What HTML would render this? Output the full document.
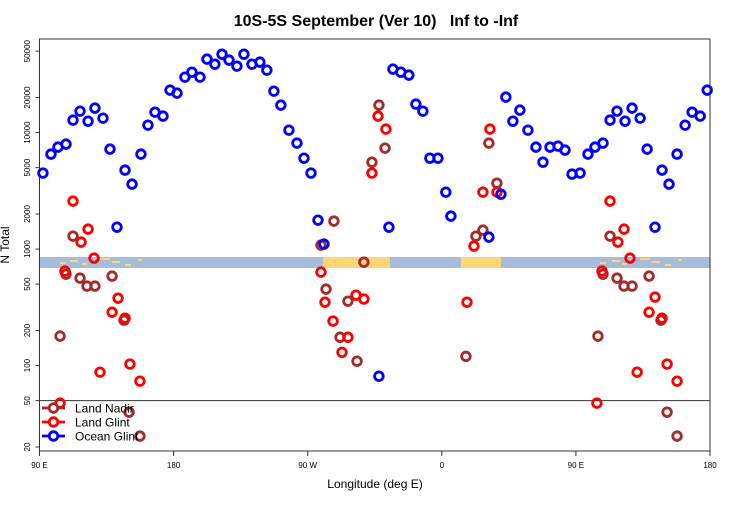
<!DOCTYPE html>
<html><head><meta charset="utf-8"><style>
body{margin:0;background:#fff}
svg text{font-family:"Liberation Sans",Arial,sans-serif}
.pre{white-space:pre}
</style></head><body>
<svg id="chart" width="750" height="500" xmlns="http://www.w3.org/2000/svg">
<text class="pre" xml:space="preserve" x="376" y="26" text-anchor="middle" font-size="16" font-weight="bold">10S-5S September (Ver 10)   Inf to -Inf</text>
<g id="band"></g>
<g id="axes"></g>
<g id="marks"></g>
<g id="legend"></g>
<text x="375" y="488" text-anchor="middle" font-size="12">Longitude (deg E)</text>
<text transform="translate(9,245) rotate(-90)" text-anchor="middle" font-size="12">N Total</text>
</svg>
<script>
const xTicks=[90,180,270,360,450,540];
const xTickLabels=["90 E","180","90 W","0","90 E","180"];
const yTicks=[20,50,100,200,500,1000,2000,5000,10000,20000,50000];
const oceanLon=[92.3,97.7,102.4,107.8,112.5,117.2,122.6,127.2,132.6,137.3,142,147.4,152.1,158.1,162.8,167.5,172.9,177.6,182.3,187.6,192.3,197.7,202.4,207.7,212.5,217.2,222.5,227.2,232.6,237.9,242.6,247.3,252,257.4,262.8,267.5,272.2,276.9,280.9,317.8,324.5,327.2,332.5,337.9,342.6,347.3,352,357.4,362.7,366.1,391.6,399.7,403,407.7,412.4,417.8,423.2,427.9,432.6,438,442.7,447.4,452.8,458.1,462.8,468.2,472.9,477.6,483,487.7,493.1,497.8,503.1,507.8,512.5,517.9,523.3,528,533.4,538.1];
const oceanVal=[4490,6530,7500,7960,12790,15270,12530,16210,13300,7210,1542,4760,3610,6530,11580,14970,13840,23140,21810,29900,33000,29900,42700,38650,47100,41870,37170,47100,38650,40250,34340,22680,17200,10490,8120,6030,4490,1771,1103,81,1542,35050,33000,31120,17550,15270,6030,6030,3080,1918,1266,2960,20150,12530,15580,10490,7500,5570,7500,7650,7070,4400,4490,6530,7500,8120,12790,15270,12530,16210,13300,7210,1542,4760,3610,6530,11580,14970,13840,23140];
const glintLon=[112.5,122.6,117.9,126.6,107.1,138.7,142.7,147.4,150.7,130.6,157.4,103.8,317.2,322.5,313.1,278.9,281.6,287,293,297,302.4,307.7,387.6,381.6,376.9,392.3,397,472.9,482.3,478.2,486.3,467.5,503.1,499.1,507.8,511.2,491.1,517.9,464.1];
const glintVal=[2580,1483,1147,836,647,287,379,255,103,87.8,73.5,47.6,13840,10710,4490,634,350,241,130,175,402,372,3080,1060,350,10710,3080,2580,1483,1147,836,647,387,287,255,103,87.8,73.5,47.6];
const nadirLon=[112.5,107.8,103.8,117.2,121.9,127.2,138.7,146.7,150.1,157.4,317.8,321.9,313.1,287.6,278.9,282.3,297,291.7,303.1,307.7,387.6,382.9,376.2,391.6,397,472.9,468.2,477.6,482.3,487.7,499.1,507.1,464.8,511.2,517.9];
const nadirVal=[1291,609,179,563,481,481,586,245,39.8,24.8,17200,7350,5570,1737,1081,453,357,175,109,772,1454,1291,120,8120,3680,1291,609,563,481,481,586,245,179,39.8,24.8];
const L=39.5,R=710,T=39,B=451;
const X=lon=>L+(lon-90)*(R-L)/450;
const Y=v=>447-(Math.log10(v)-Math.log10(20))*116.5;
const NS="http://www.w3.org/2000/svg";
function mk(tag,attrs,parent){const e=document.createElementNS(NS,tag);for(const k in attrs)e.setAttribute(k,attrs[k]);parent.appendChild(e);return e;}
const band=document.getElementById('band');
mk('rect',{x:L,y:257,width:R-L,height:11,fill:'#a6bcdb'},band);
const land=[[323,390],[461,501]];
land.forEach(s=>mk('rect',{x:s[0],y:257,width:s[1]-s[0],height:11,fill:'#fdd676'},band));
const patches=[[60,262,6],[70,260,8],[82,263,5],[100,258,10],[112,261,8],[125,264,6],[138,259,4],[600,262,6],[612,260,8],[622,263,5],[640,258,10],[652,261,8],[665,264,6],[678,259,4]];
patches.forEach(p=>mk('rect',{x:p[0],y:p[1],width:p[2],height:2,fill:'#fdd676'},band));
const ax=document.getElementById('axes');
const frame=mk('rect',{x:L,y:T,width:R-L,height:B-T,fill:'none',stroke:'#333','stroke-width':1},ax);


const hl=mk('line',{x1:L,x2:R,y1:Y(50),y2:Y(50),stroke:'#333','stroke-width':1},ax);


xTicks.forEach((t,i)=>{
 mk('line',{x1:X(t),x2:X(t),y1:B,y2:B+5,stroke:'#333'},ax);
 const tx=mk('text',{x:X(t),y:468,'text-anchor':'middle','font-size':8},ax);
 tx.textContent=xTickLabels[i];
 
 
});
yTicks.forEach(t=>{
 mk('line',{x1:L-4,x2:L,y1:Y(t),y2:Y(t),stroke:'#333'},ax);
 const tx=mk('text',{transform:`translate(30,${Y(t)}) rotate(-90)`,'text-anchor':'middle','font-size':8},ax);
 tx.textContent=String(t);
 
 
});
const marks=document.getElementById('marks');
function series(lons,vals,col,name){
 const g=mk('g',{},marks);
 
 
 lons.forEach((lo,i)=>{
  const c=mk('circle',{cx:X(lo),cy:Y(vals[i]),r:4.3,fill:'none',stroke:col,'stroke-width':2.8},g);
  
  
 });
}
series(nadirLon,nadirVal,'#a52a2a','land-nadir-series');
series(glintLon,glintVal,'#ff0000','land-glint-series');
series(oceanLon,oceanVal,'#0000ff','ocean-glint-series');
const lg=document.getElementById('legend');
const entries=[['Land Nadir','#a52a2a',408],['Land Glint','#ff0000',422],['Ocean Glint','#0000ff',436]];
entries.forEach(e=>{
 const g=mk('g',{},lg);
 
 
 mk('line',{x1:42,x2:65,y1:e[2],y2:e[2],stroke:e[1],'stroke-width':2.8},g);
 mk('circle',{cx:53.5,cy:e[2],r:4.3,fill:'#fff',stroke:e[1],'stroke-width':2.8},g);
 const t=mk('text',{x:75,y:e[2]+4.5,'font-size':12},g);
 t.textContent=e[0];
});
</script>
</body></html>
